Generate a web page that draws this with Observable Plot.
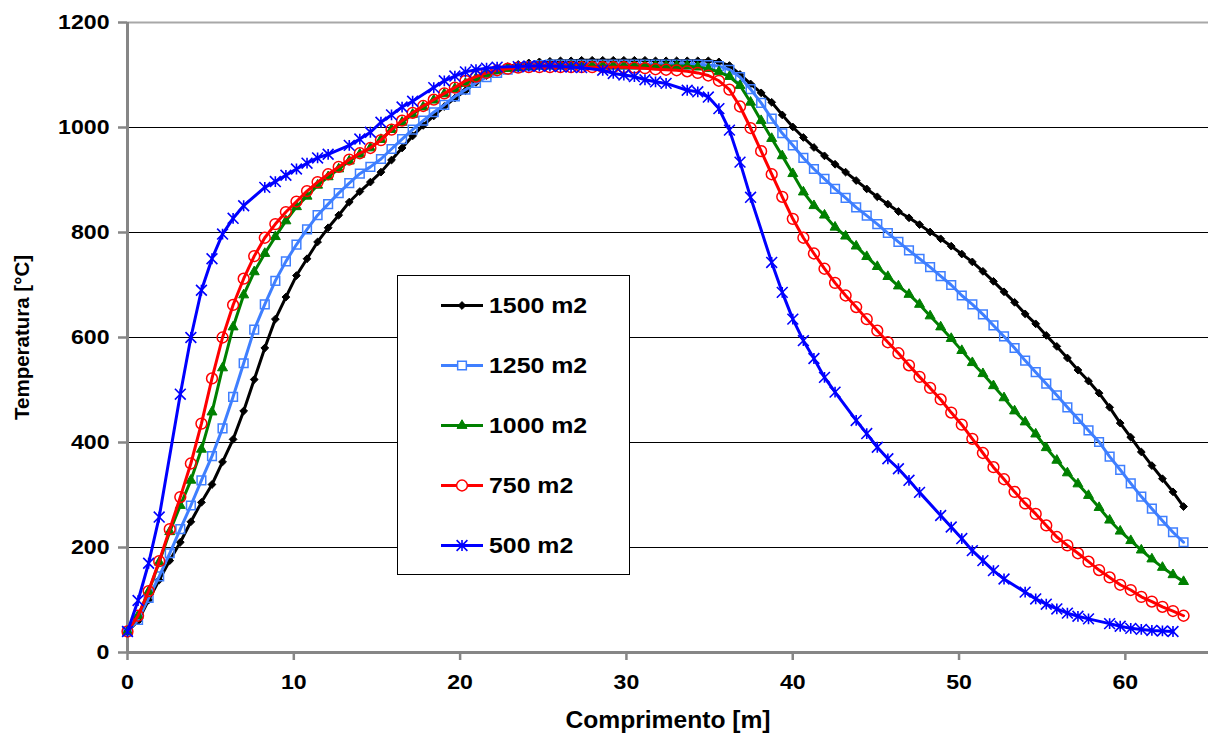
<!DOCTYPE html>
<html>
<head>
<meta charset="utf-8">
<script src="https://cdn.jsdelivr.net/npm/d3@7"></script>
<script src="https://cdn.jsdelivr.net/npm/@observablehq/plot@0.6"></script>
<style>
  html, body { margin: 0; padding: 0; background: #fff; }
  #chart { width: 1208px; height: 738px; }
</style>
</head>
<body>
<div id="chart"></div>
<script>
// ---------- data ----------
const xPos = [0, 0.635, 1.27, 1.905, 2.54, 3.175, 3.81, 4.445, 5.08, 5.715,
  6.35, 6.985, 7.62, 8.255, 8.89, 9.525, 10.16, 10.795, 11.43, 12.065,
  12.7, 13.335, 13.97, 14.605, 15.24, 15.875, 16.51, 17.145, 17.78, 18.415,
  19.05, 19.685, 20.32, 20.955, 21.59, 22.225, 22.86, 23.495, 24.13, 24.765,
  25.4, 26.035, 26.67, 27.305, 27.94, 28.575, 29.21, 29.845, 30.48, 31.115,
  31.75, 32.385, 33.02, 33.655, 34.29, 34.925, 35.56, 36.195, 36.83, 37.465,
  38.1, 38.735, 39.37, 40.005, 40.64, 41.275, 41.91, 42.545, 43.18, 43.815,
  44.45, 45.085, 45.72, 46.355, 46.99, 47.625, 48.26, 48.895, 49.53, 50.165,
  50.8, 51.435, 52.07, 52.705, 53.34, 53.975, 54.61, 55.245, 55.88, 56.515,
  57.15, 57.785, 58.42, 59.055, 59.69, 60.325, 60.96, 61.595, 62.23, 62.865, 63.5];

const t1500 = [40, 60, 100, 138, 175, 210, 249, 286, 320, 363,
  406, 460, 520, 580, 635, 677, 718, 750, 782, 809,
  833, 858, 878, 896, 915, 938, 961, 984, 1004, 1022,
  1040, 1056, 1070, 1086, 1099, 1109, 1116, 1120, 1123, 1125,
  1126, 1127, 1127, 1128, 1128, 1128, 1128, 1128, 1128, 1128,
  1127, 1127, 1127, 1127, 1127, 1127, 1125, 1118, 1101, 1083,
  1066, 1048, 1024, 1001, 981, 962, 946, 930, 915, 899,
  883, 868, 854, 840, 828, 815, 801, 788, 774, 759,
  744, 726, 707, 687, 667, 645, 626, 604, 583, 561,
  538, 517, 494, 467, 437, 410, 382, 356, 331, 306, 278];

const t1250 = [40, 62, 104, 145, 189, 235, 280, 328, 374, 427,
  487, 551, 615, 663, 708, 745, 777, 806, 833, 854,
  875, 894, 912, 925, 940, 959, 978, 996, 1013, 1029,
  1043, 1059, 1072, 1085, 1096, 1104, 1110, 1114, 1117, 1119,
  1120, 1120, 1120, 1120, 1120, 1120, 1120, 1120, 1120, 1120,
  1120, 1120, 1120, 1120, 1120, 1119, 1117, 1110, 1096, 1073,
  1047, 1017, 989, 966, 942, 921, 902, 883, 866, 848,
  832, 816, 799, 782, 766, 750, 734, 717, 700, 680,
  663, 644, 623, 602, 580, 556, 534, 512, 490, 467,
  445, 423, 401, 373, 348, 322, 297, 274, 251, 229, 210];

const t1000 = [40, 70, 116, 172, 230, 280, 328, 387, 458, 542,
  620, 681, 725, 760, 792, 822, 849, 869, 890, 906,
  921, 936, 949, 961, 977, 996, 1010, 1025, 1039, 1052,
  1064, 1074, 1084, 1094, 1102, 1108, 1112, 1114, 1116, 1117,
  1117, 1117, 1117, 1117, 1117, 1117, 1117, 1117, 1117, 1117,
  1117, 1117, 1117, 1117, 1115, 1112, 1106, 1097, 1080, 1048,
  1013, 979, 946, 912, 877, 851, 833, 810, 793, 774,
  754, 735, 716, 698, 682, 663, 641, 620, 598, 575,
  552, 531, 508, 485, 460, 439, 416, 390, 366, 342,
  321, 299, 276, 252, 231, 213, 195, 178, 162, 148, 135];

const t750 = [40, 70, 117, 174, 235, 296, 360, 436, 522, 600,
  662, 712, 755, 790, 816, 839, 859, 879, 896, 911,
  925, 939, 951, 961, 976, 996, 1013, 1028, 1041, 1053,
  1065, 1076, 1089, 1097, 1104, 1109, 1112, 1114, 1115, 1115,
  1115, 1115, 1115, 1115, 1115, 1115, 1115, 1115, 1114, 1113,
  1111, 1110, 1109, 1107, 1104, 1099, 1089, 1072, 1040, 999,
  955, 911, 868, 826, 790, 760, 731, 704, 680, 658,
  635, 613, 591, 570, 547, 525, 504, 482, 457, 434,
  407, 380, 353, 330, 306, 284, 264, 242, 220, 204,
  189, 173, 157, 143, 129, 119, 106, 97, 87, 79, 70];

const t500 = [40, 99, 170, 258, null, 492, 600, 690, 750, 797,
  827, 851, null, 886, 897, 909, 921, 932, 942, 949,
  null, 966, 978, 991, 1010, 1024, 1039, 1050, null, 1076,
  1089, 1098, 1106, 1110, 1113, 1115, null, 1116, 1117, 1117,
  1117, 1116, 1115, 1114, null, 1109, 1103, 1100, 1097, 1091,
  1087, 1084, null, 1071, 1068, 1058, 1036, 995, 934, 867,
  null, 743, 686, 635, 594, 560, 524, 496, null, 442,
  417, 391, 369, 350, 328, 305, null, 261, 239, 217,
  194, 175, 156, 140, null, 115, 102, 92, 83, 75,
  69, 64, null, 55, 50, 46, 44, 42, 41, 40, null];

const seriesNames = ["1500 m2", "1250 m2", "1000 m2", "750 m2", "500 m2"];
const xTicks = [0, 10, 20, 30, 40, 50, 60];
const yTicks = [0, 200, 400, 600, 800, 1000, 1200];
const gridValues = [200, 400, 600, 800, 1000];
const xTitle = "Comprimento [m]";
const yTitle = "Temperatura [°C]";

// ---------- styling ----------
const seriesValues = [t1500, t1250, t1000, t750, t500];
const colors = ["#000000", "#3F7FFF", "#008000", "#FF0000", "#0000FF"];
const star = {
  draw(ctx, size) {
    const r = Math.sqrt(size / Math.PI) * 0.9;
    ctx.moveTo(-r, -r); ctx.lineTo(r, r);
    ctx.moveTo(r, -r); ctx.lineTo(-r, r);
    ctx.moveTo(0, -r); ctx.lineTo(0, r);
  }
};
const markerStyle = [
  {symbol: "diamond2", r: 3.5, fill: colors[0], stroke: colors[0], strokeWidth: 1},
  {symbol: "square", r: 4.9, fill: "none", stroke: colors[1], strokeWidth: 1.5},
  {symbol: "triangle", r: 3.7, fill: colors[2], stroke: colors[2], strokeWidth: 1},
  {symbol: "circle", r: 5.4, fill: "none", stroke: colors[3], strokeWidth: 1.5},
  {symbol: star, r: 6, fill: "none", stroke: colors[4], strokeWidth: 1.6}
];

const rowsBySeries = seriesNames.map((name, k) =>
  xPos.map((x, i) => ({x, y: seriesValues[k][i], name})).filter(d => d.y != null)
);

const axisGray = "#868686";
const seriesMarks = rowsBySeries.flatMap((rows, k) => [
  Plot.line(rows, {x: "x", y: "y", stroke: colors[k], strokeWidth: 3}),
  Plot.dot(rows, {x: "x", y: "y", ...markerStyle[k]})
]);

const plot = Plot.plot({
  width: 1208,
  height: 738,
  marginLeft: 127,
  marginRight: 0,
  marginTop: 22,
  marginBottom: 86,
  x: {domain: [0, 65], label: null},
  y: {domain: [0, 1200], label: null},
  style: {
    fontFamily: "'Liberation Sans', Arial, sans-serif",
    fontWeight: "bold",
    background: "#ffffff",
    color: "#000000",
    overflow: "visible"
  },
  marks: [
    Plot.ruleY(gridValues, {stroke: "#000", strokeWidth: 1}),
    Plot.ruleY([1200], {stroke: "#a8a8a8", strokeWidth: 2}),
    Plot.ruleX([0], {stroke: axisGray, strokeWidth: 3}),
    Plot.ruleY([0], {stroke: axisGray, strokeWidth: 3}),
    Plot.axisY({ticks: yTicks, tickSize: 9, tickPadding: 9, stroke: axisGray, strokeWidth: 2.5,
      fill: "#000", fontSize: 21, fontWeight: "bold", label: null, tickFormat: d => String(d)}),
    Plot.axisX({ticks: xTicks, tickSize: 8, tickPadding: 14, stroke: axisGray, strokeWidth: 2.5,
      fill: "#000", fontSize: 21, fontWeight: "bold", label: null, tickFormat: d => String(d)}),
    Plot.text([xTitle], {frameAnchor: "bottom", dy: 68, fontSize: 23, fontWeight: "bold", fill: "#000",
      lineAnchor: "middle", textAnchor: "middle"}),
    Plot.text([yTitle], {frameAnchor: "middle", dx: -645.5, rotate: -90, fontSize: 20.5, fontWeight: "bold",
      fill: "#000", lineAnchor: "middle", textAnchor: "middle"}),
    ...seriesMarks
  ]
});

document.getElementById("chart").appendChild(plot);

// ---------- legend box inside the plot ----------
const svg = d3.select(plot);
const lg = svg.append("g").attr("class", "legend").attr("text-anchor", "start");
lg.append("rect")
  .attr("x", 397.5).attr("y", 275.5).attr("width", 232).attr("height", 299)
  .attr("fill", "#fff").attr("stroke", "#000").attr("stroke-width", 1);

const legendSymbol = [
  d3.symbol(d3.symbolDiamond2, Math.PI * 3.5 * 3.5)(),
  d3.symbol(d3.symbolSquare, Math.PI * 4.9 * 4.9)(),
  d3.symbol(d3.symbolTriangle, Math.PI * 3.7 * 3.7)(),
  d3.symbol(d3.symbolCircle, Math.PI * 5.4 * 5.4)(),
  d3.symbol(star, Math.PI * 6 * 6)()
];

seriesNames.forEach((name, k) => {
  const cy = 305.5 + k * 60;
  const g = lg.append("g");
  g.append("line").attr("x1", 441).attr("x2", 483).attr("y1", cy).attr("y2", cy)
    .attr("stroke", colors[k]).attr("stroke-width", 3);
  g.append("path").attr("d", legendSymbol[k])
    .attr("transform", `translate(462,${cy})`)
    .attr("fill", markerStyle[k].fill === "none" ? "#fff" : markerStyle[k].fill)
    .attr("stroke", markerStyle[k].stroke)
    .attr("stroke-width", markerStyle[k].strokeWidth);
  g.append("text").attr("x", 489).attr("y", cy).attr("dy", "0.36em")
    .attr("text-anchor", "start")
    .attr("font-size", 22).attr("font-weight", "bold").attr("fill", "#000")
    .attr("class", "stretch")
    .text(name);
});

// Reference text is rendered slightly wider than plain Arial: stretch horizontal labels a bit
svg.selectAll("text").each(function() {
  const t = this.textContent;
  if (t === yTitle) return;
  const w = this.getComputedTextLength();
  if (!w) return;
  const f = this.classList.contains("stretch") ? 1.13 : (t === xTitle ? 1.07 : 1.1);
  this.setAttribute("textLength", (w * f).toFixed(1));
  this.setAttribute("lengthAdjust", "spacingAndGlyphs");
});
</script>
</body>
</html>
